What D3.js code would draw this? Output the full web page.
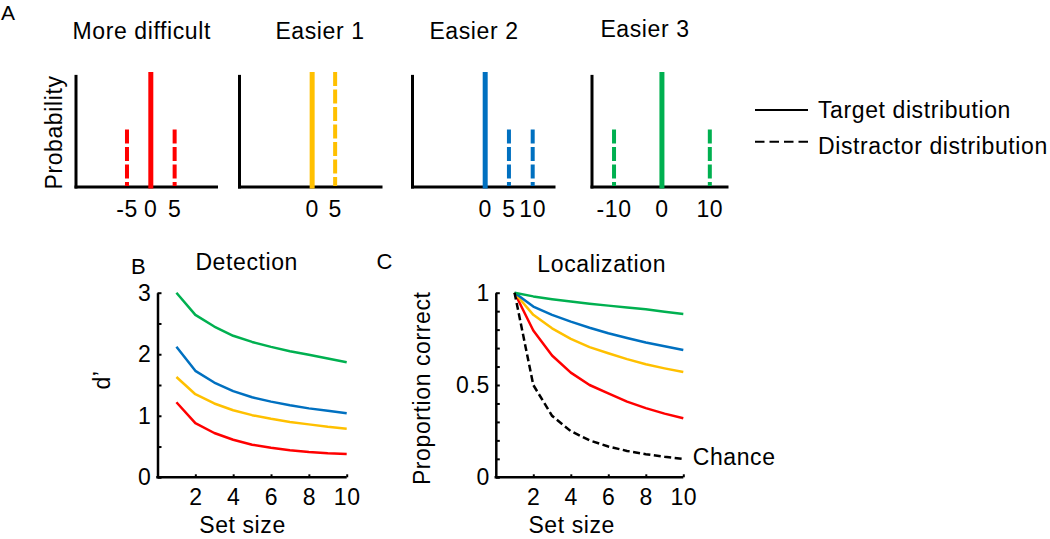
<!DOCTYPE html>
<html><head><meta charset="utf-8">
<script src="https://cdn.jsdelivr.net/npm/d3@7"></script>
<style>
body{margin:0;background:#fff;}
svg text{font-family:"Liberation Sans",Arial,Helvetica,sans-serif;fill:#000;}
</style></head><body>
<svg id="c" width="1050" height="539"></svg>
<script>
// ---------------- DATA ----------------
// Panel A: stimulus distributions
const distTitles = ["More difficult", "Easier 1", "Easier 2", "Easier 3"];
const targetValues = [0, 0, 0, 0];
const targetProb = [1, 1, 1, 1];
const distractorValues = [[-5, 5], [5], [5, 10], [-10, 10]];
const distractorProb = [[0.5, 0.5], [1], [0.5, 0.5], [0.5, 0.5]];
const distTickLabels = [[-5, 0, 5], [0, 5], [0, 5, 10], [-10, 0, 10]];
const distXDomains = [[-15.7, 14.1], [-15.8, 15.3], [-15.3, 14.8], [-14.6, 13.9]];
const legendLabels = ["Target distribution", "Distractor distribution"];

// Panel B / C: performance vs set size
const setSizes = [1, 2, 3, 4, 5, 6, 7, 8, 9, 10];
const detectionRed    = [1.22, 0.88, 0.72, 0.61, 0.53, 0.48, 0.44, 0.41, 0.39, 0.38];
const detectionYellow = [1.63, 1.35, 1.20, 1.09, 1.01, 0.95, 0.90, 0.86, 0.82, 0.79];
const detectionBlue   = [2.12, 1.73, 1.54, 1.40, 1.30, 1.23, 1.17, 1.12, 1.08, 1.04];
const detectionGreen  = [3.00, 2.64, 2.45, 2.30, 2.20, 2.12, 2.05, 1.99, 1.93, 1.87];
const localizationRed    = [1.00, 0.795, 0.66, 0.567, 0.50, 0.455, 0.41, 0.375, 0.345, 0.32];
const localizationYellow = [1.00, 0.88, 0.807, 0.75, 0.705, 0.672, 0.64, 0.612, 0.59, 0.57];
const localizationBlue   = [1.00, 0.925, 0.88, 0.843, 0.81, 0.78, 0.755, 0.73, 0.71, 0.69];
const localizationGreen  = [1.00, 0.98, 0.965, 0.952, 0.94, 0.93, 0.92, 0.91, 0.897, 0.885];
const localizationChance = [1.00, 0.50, 0.333, 0.25, 0.20, 0.167, 0.143, 0.125, 0.111, 0.10];
const detectionYTicks = [0, 0.5, 1, 1.5, 2, 2.5, 3];
const detectionYLabels = [0, 1, 2, 3];
const localizationYTicks = [0, 0.1, 0.2, 0.3, 0.4, 0.5, 0.6, 0.7, 0.8, 0.9, 1];
const localizationYLabels = [0, 0.5, 1];
const setSizeTicks = [2, 4, 6, 8, 10];

// ---------------- STYLE / LAYOUT ----------------
const COLORS = ["#ff0000", "#ffc000", "#0070c0", "#00b050"];
const FONT = '"Liberation Sans", Arial, Helvetica, sans-serif';
const FS = 23, LS = "0.6px";
const svg = d3.select("#c");

function txt(g, x, y, s, anchor, size) {
  return g.append("text").attr("x", x).attr("y", y).text(s)
    .attr("text-anchor", anchor || "start")
    .attr("font-family", FONT)
    .style("font-family", FONT)
    .style("font-size", (size || FS) + "px").style("letter-spacing", LS);
}

// ---------------- PANEL A ----------------
const aLeft = [76, 239.5, 412.5, 592], aRight = [218, 382.5, 555.5, 728.5];
const aTitleX = [141.7, 320, 474, 645], aTitleY = [39, 39, 38.5, 36.5];
const yA = d3.scaleLinear().domain([0, 1]).range([187, 72]);
const gA = svg.append("g");
txt(gA, 1, 19.5, "A", "start", 21).style("letter-spacing", "0px");
distTitles.forEach((t, i) => {
  const x = d3.scaleLinear().domain(distXDomains[i]).range([aLeft[i], aRight[i]]);
  const g = gA.append("g");
  // axes
  g.append("line").attr("x1", aLeft[i]).attr("x2", aLeft[i]).attr("y1", yA(0) + 1.5).attr("y2", yA(0.975))
    .attr("stroke", "#000").attr("stroke-width", 3);
  g.append("line").attr("x1", aLeft[i] - 1.5).attr("x2", aRight[i]).attr("y1", yA(0)).attr("y2", yA(0))
    .attr("stroke", "#000").attr("stroke-width", 3);
  // distractors
  distractorValues[i].forEach((d, j) => {
    g.append("line").attr("x1", x(d)).attr("x2", x(d)).attr("y1", yA(distractorProb[i][j])).attr("y2", yA(0) - 1)
      .attr("stroke", COLORS[i]).attr("stroke-width", 4).attr("stroke-dasharray", "14,3.5");
  });
  // target
  g.append("line").attr("x1", x(targetValues[i])).attr("x2", x(targetValues[i]))
    .attr("y1", yA(targetProb[i])).attr("y2", yA(0) + 1.5)
    .attr("stroke", COLORS[i]).attr("stroke-width", 5);
  distTickLabels[i].forEach(v => txt(g, x(v), 216.7, String(v), "middle"));
  txt(g, aTitleX[i], aTitleY[i], t, "middle");
});
txt(gA, 0, 0, "Probability", "middle").attr("transform", "translate(62,132.5) rotate(-90)");
// legend
gA.append("line").attr("x1", 755).attr("x2", 808).attr("y1", 110).attr("y2", 110).attr("stroke", "#000").attr("stroke-width", 2);
gA.append("line").attr("x1", 755).attr("x2", 808).attr("y1", 141.7).attr("y2", 141.7).attr("stroke", "#000").attr("stroke-width", 2)
  .attr("stroke-dasharray", "9.5,5");
txt(gA, 818, 117.5, legendLabels[0]);
txt(gA, 818, 153.5, legendLabels[1]);

// ---------------- PANELS B, C ----------------
function perfPanel(opt) {
  const g = svg.append("g");
  const x = d3.scaleLinear().domain([0, 10]).range(opt.xr);
  const y = d3.scaleLinear().domain(opt.yd).range([477.3, 292.7]);
  const ax = g.append("g").attr("transform", `translate(0,${y(opt.yd[0])})`)
    .call(d3.axisBottom(x).tickValues(setSizeTicks).tickSize(-3).tickSizeOuter(0).tickPadding(11.5));
  const ay = g.append("g").attr("transform", `translate(${x(0)},0)`)
    .call(d3.axisLeft(y).tickValues(opt.yTicks).tickSize(-4).tickSizeOuter(0).tickPadding(6)
      .tickFormat(v => opt.yLabels.some(l => Math.abs(l - v) < 1e-9) ? String(v) : ""));
  [ax, ay].forEach(a => {
    a.attr("font-family", FONT);
    a.select(".domain").attr("stroke-width", 2.5).attr("stroke", "#000");
    a.selectAll(".tick line").attr("stroke-width", 2).attr("stroke", "#000");
    a.selectAll("text").style("font-size", FS + "px").style("letter-spacing", LS)
      .style("font-family", FONT).attr("fill", "#000");
  });
  ax.select(".domain").attr("d", `M${x(0) - 1.25},0H${x(10)}`);
  const line = d3.line().x((d, i) => x(setSizes[i])).y(d => y(d));
  opt.series.forEach((s, i) => {
    g.append("path").datum(s).attr("d", line).attr("fill", "none")
      .attr("stroke", COLORS[i]).attr("stroke-width", 2.5).attr("stroke-linejoin", "round");
  });
  if (opt.chance) {
    g.append("path").datum(opt.chance).attr("d", line).attr("fill", "none")
      .attr("stroke", "#000").attr("stroke-width", 2.5).attr("stroke-dasharray", "7,3.5");
  }
  return { g, x, y };
}

const B = perfPanel({
  xr: [157.5, 346.7], yd: [0, 3], yTicks: detectionYTicks, yLabels: detectionYLabels,
  series: [detectionRed, detectionYellow, detectionBlue, detectionGreen]
});
txt(B.g, 131, 274, "B", "start", 22).style("letter-spacing", "0px");
txt(B.g, 246.7, 270, "Detection", "middle");
txt(B.g, 242.5, 533, "Set size", "middle");
txt(B.g, 0, 0, "d\u2019", "middle").attr("transform", "translate(110,380) rotate(-90)");

const C = perfPanel({
  xr: [495.8, 683.3], yd: [0, 1], yTicks: localizationYTicks, yLabels: localizationYLabels,
  series: [localizationRed, localizationYellow, localizationBlue, localizationGreen],
  chance: localizationChance
});
txt(C.g, 376.5, 269, "C", "start", 22).style("letter-spacing", "0px");
txt(C.g, 601.7, 272, "Localization", "middle");
txt(C.g, 571.7, 533, "Set size", "middle");
txt(C.g, 692.7, 465, "Chance");
txt(C.g, 0, 0, "Proportion correct", "middle").attr("transform", "translate(430,388.3) rotate(-90)");
</script>
</body></html>
